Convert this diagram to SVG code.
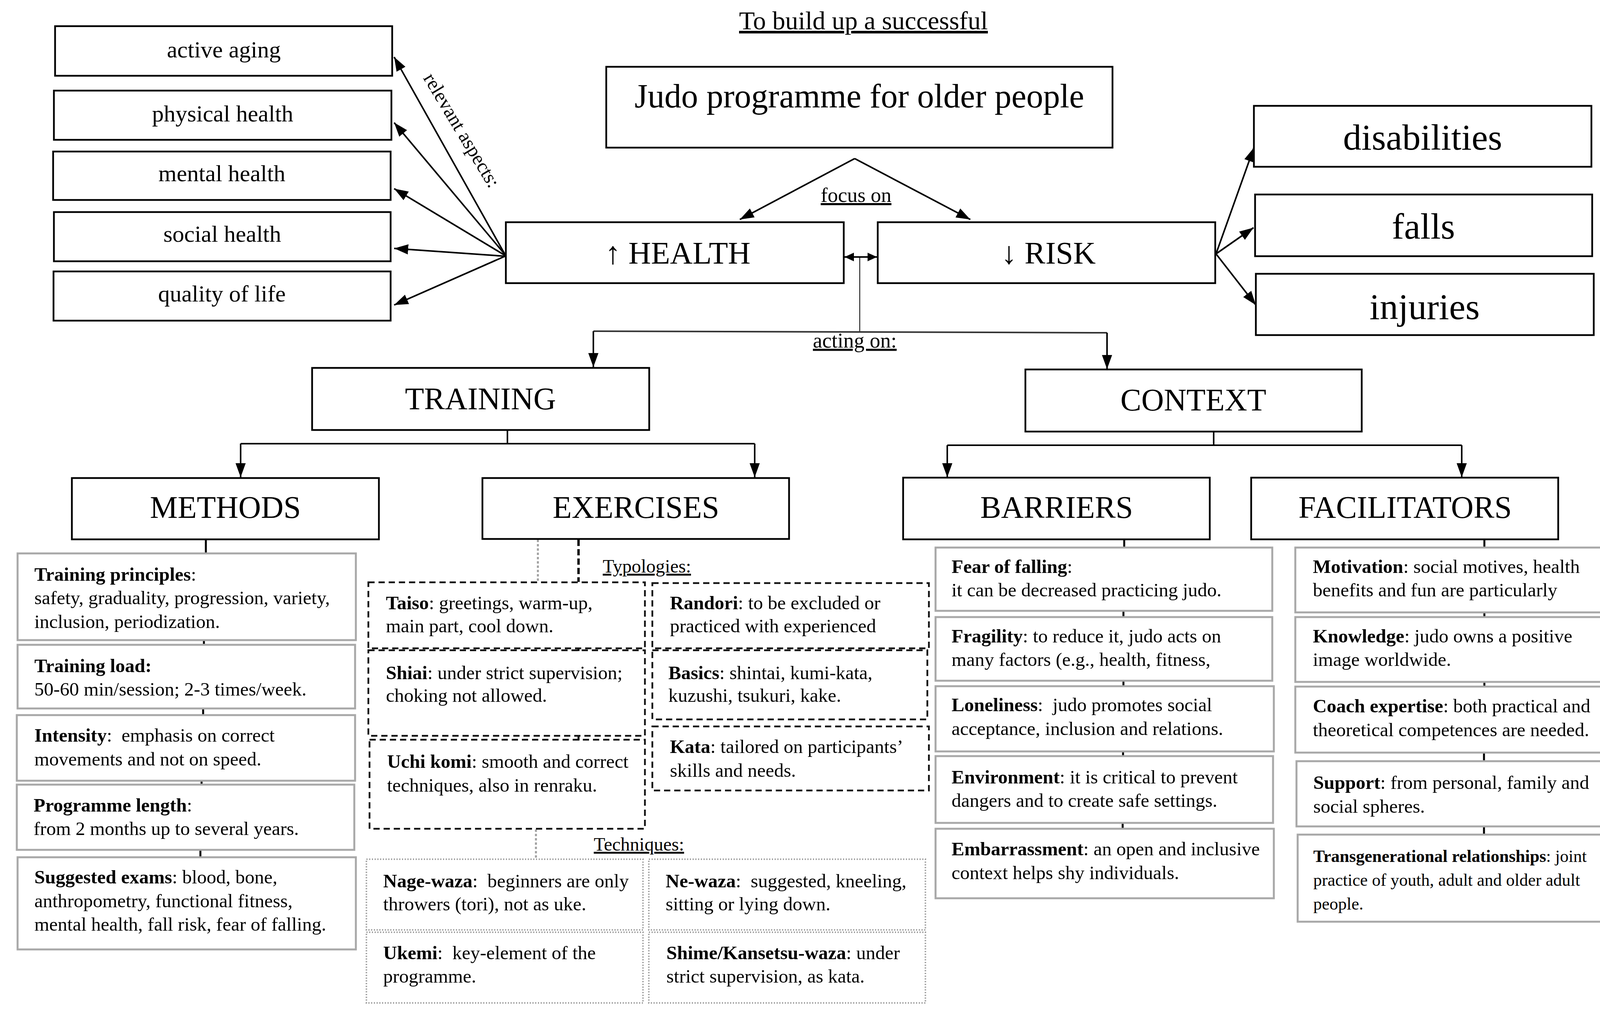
<svg xmlns="http://www.w3.org/2000/svg" width="4208" height="2604" viewBox="0 0 4208 2604">
<defs>
<marker id="ah" markerUnits="userSpaceOnUse" markerWidth="38" markerHeight="28" refX="36" refY="13" orient="auto" viewBox="0 0 38 26"><path d="M0,0 L36,13 L0,26 z" fill="#000"/></marker>
<marker id="ahs" markerUnits="userSpaceOnUse" markerWidth="26" markerHeight="24" refX="24" refY="11" orient="auto-start-reverse" viewBox="0 0 26 22"><path d="M0,0 L24,11 L0,22 z" fill="#000"/></marker>
</defs>
<style>
text{font-family:"Liberation Serif","Times New Roman",serif;fill:#000}
.box{fill:#fff;stroke:#000;stroke-width:4.5}
.gbox{fill:#fff;stroke:#a8a8a8;stroke-width:5}
.dbox{fill:none;stroke:#111;stroke-width:4.5;stroke-dasharray:16 10}
.obox{fill:none;stroke:#a0a0a0;stroke-width:4;stroke-dasharray:3 4}
.big{font-size:80px;text-anchor:middle}
.side{font-size:60px;text-anchor:middle}
.rside{font-size:94px;text-anchor:middle}
.d{font-size:49px}
.ds{font-size:44px}
.b{font-weight:bold}
.u{text-decoration:underline}
.c{fill:none;stroke:#000;stroke-width:4}
.tick{fill:none;stroke:#000;stroke-width:5}
</style>
<rect width="4208" height="2604" fill="#fff"/>

<g id="connectors">
<path class="c" d="M1293,652 L1009,146" marker-end="url(#ah)"/>
<path class="c" d="M1293,652 L1009,314" marker-end="url(#ah)"/>
<path class="c" d="M1293,654 L1009,483" marker-end="url(#ah)"/>
<path class="c" d="M1293,656 L1009,636" marker-end="url(#ah)"/>
<path class="c" d="M1293,656 L1009,781" marker-end="url(#ah)"/>
<path class="c" d="M3113,650 L3210,378" marker-end="url(#ah)"/>
<path class="c" d="M3113,650 L3209,583" marker-end="url(#ah)"/>
<path class="c" d="M3113,650 L3215,781" marker-end="url(#ah)"/>
<path class="c" d="M2188,406 L1894,562" marker-end="url(#ah)"/>
<path class="c" d="M2188,406 L2484,562" marker-end="url(#ah)"/>
<path class="c" d="M2162,658 L2245,658" marker-start="url(#ahs)" marker-end="url(#ahs)"/>
<path fill="none" stroke="#000" stroke-width="2" d="M2201,658 V850"/>
<path fill="none" stroke="#333" stroke-width="4" d="M1519,848 L2834,852"/>
<path class="c" d="M1519,848 V940" marker-end="url(#ah)"/>
<path class="c" d="M2834,852 V945" marker-end="url(#ah)"/>
<path class="c" d="M1299,1101 V1136 M616,1136 H1932"/>
<path class="c" d="M616,1136 V1222" marker-end="url(#ah)"/>
<path class="c" d="M1932,1136 V1222" marker-end="url(#ah)"/>
<path class="c" d="M3107,1105 V1140 M2425,1140 H3742"/>
<path class="c" d="M2425,1140 V1222" marker-end="url(#ah)"/>
<path class="c" d="M3742,1140 V1222" marker-end="url(#ah)"/>
<path class="tick" d="M527,1381 V1417 M522,1639 V1651 M520,1814 V1831 M516,1999 V2009 M513,2176 V2195"/>
<path class="tick" d="M2878,1381 V1402 M2876,1564 V1580 M2876,1743 V1757 M2875,1924 V1936 M2874,2107 V2122"/>
<path class="tick" d="M3800,1381 V1402 M3800,1568 V1580 M3800,1746 V1758 M3799,1927 V1949 M3799,2116 V2137"/>
<path fill="none" stroke="#a0a0a0" stroke-width="5" stroke-dasharray="6 5" d="M1377,1382 V1490"/>
<path fill="none" stroke="#000" stroke-width="6" stroke-dasharray="16 8" d="M1481,1382 V1490"/>
<path fill="none" stroke="#a0a0a0" stroke-width="5" stroke-dasharray="6 5" d="M1372,2124 V2200"/>
<path class="tick" d="M1481,1658 V1667 M1481,1884 V1896"/>
</g>

<text id="title" x="1892" y="75" font-size="66" class="u">To build up a successful</text>

<g id="judo"><rect class="box" x="1552" y="171" width="1296" height="207"/><text x="2200" y="275" font-size="86" text-anchor="middle">Judo programme for older people</text></g>

<text id="focus-label" x="2101" y="517" font-size="53" class="u">focus on</text>
<text id="acting-label" x="2081" y="890" font-size="54" class="u">acting on:</text>
<text id="relevant-label" transform="translate(1168,342) rotate(59)" font-size="50" text-anchor="middle">relevant aspects:</text>

<g id="health"><rect class="box" x="1295" y="569" width="865" height="156"/><text class="big" x="1735" y="675">↑ HEALTH</text></g>
<g id="risk"><rect class="box" x="2247" y="569" width="864" height="156"/><text class="big" x="2684" y="675">↓ RISK</text></g>

<g id="active-aging"><rect class="box" x="141" y="67" width="863" height="127"/><text class="side" x="573" y="147">active aging</text></g>
<g id="physical-health"><rect class="box" x="138" y="232" width="864" height="126"/><text class="side" x="570" y="311">physical health</text></g>
<g id="mental-health"><rect class="box" x="136" y="388" width="864" height="124"/><text class="side" x="568" y="464">mental health</text></g>
<g id="social-health"><rect class="box" x="138" y="543" width="862" height="126"/><text class="side" x="569" y="619">social health</text></g>
<g id="quality-of-life"><rect class="box" x="137" y="695" width="863" height="126"/><text class="side" x="568" y="772">quality of life</text></g>

<g id="disabilities"><rect class="box" x="3210" y="271" width="864" height="156"/><text class="rside" x="3642" y="383">disabilities</text></g>
<g id="falls"><rect class="box" x="3213" y="498" width="863" height="158"/><text class="rside" x="3644" y="611">falls</text></g>
<g id="injuries"><rect class="box" x="3215" y="701" width="865" height="157"/><text class="rside" x="3647" y="817">injuries</text></g>

<g id="training"><rect class="box" x="799" y="942" width="863" height="159"/><text class="big" x="1230" y="1048">TRAINING</text></g>
<g id="context"><rect class="box" x="2625" y="946" width="861" height="159"/><text class="big" x="3055" y="1051">CONTEXT</text></g>
<g id="methods"><rect class="box" x="184" y="1224" width="786" height="157"/><text class="big" x="577" y="1326">METHODS</text></g>
<g id="exercises"><rect class="box" x="1235" y="1224" width="785" height="156"/><text class="big" x="1628" y="1326" font-size="77">EXERCISES</text></g>
<g id="barriers"><rect class="box" x="2312" y="1223" width="785" height="158"/><text class="big" x="2705" y="1326" font-size="77">BARRIERS</text></g>
<g id="facilitators"><rect class="box" x="3203" y="1223" width="786" height="158"/><text class="big" x="3597" y="1326" font-size="73">FACILITATORS</text></g>

<g id="m-principles"><rect class="gbox" x="45" y="1417" width="866" height="222"/><text class="d" x="88" y="1487"><tspan class="b">Training principles</tspan>:</text><text class="d" x="88" y="1547">safety, graduality, progression, variety,</text><text class="d" x="88" y="1608">inclusion, periodization.</text></g>
<g id="m-load"><rect class="gbox" x="45" y="1651" width="864" height="163"/><text class="d" x="88" y="1721"><tspan class="b">Training load:</tspan></text><text class="d" x="88" y="1781">50-60 min/session; 2-3 times/week.</text></g>
<g id="m-intensity"><rect class="gbox" x="43" y="1831" width="866" height="168"/><text class="d" x="88" y="1899"><tspan class="b">Intensity</tspan>:&#160; emphasis on correct</text><text class="d" x="88" y="1960">movements and not on speed.</text></g>
<g id="m-length"><rect class="gbox" x="43" y="2009" width="864" height="167"/><text class="d" x="86" y="2078"><tspan class="b">Programme length</tspan>:</text><text class="d" x="86" y="2138">from 2 months up to several years.</text></g>
<g id="m-exams"><rect class="gbox" x="45" y="2195" width="866" height="236"/><text class="d" x="88" y="2262"><tspan class="b">Suggested exams</tspan>: blood, bone,</text><text class="d" x="88" y="2323">anthropometry, functional fitness,</text><text class="d" x="88" y="2383">mental health, fall risk, fear of falling.</text></g>

<text id="typologies-label" x="1543" y="1466" font-size="48" class="u">Typologies:</text>
<g id="e-taiso"><rect class="dbox" x="943" y="1491" width="708" height="169"/><text class="d" x="988" y="1560"><tspan class="b">Taiso</tspan>: greetings, warm-up,</text><text class="d" x="988" y="1619">main part, cool down.</text></g>
<g id="e-shiai"><rect class="dbox" x="943" y="1665" width="708" height="219"/><text class="d" x="988" y="1739"><tspan class="b">Shiai</tspan>: under strict supervision;</text><text class="d" x="988" y="1797">choking not allowed.</text></g>
<g id="e-uchikomi"><rect class="dbox" x="946" y="1894" width="705" height="228"/><text class="d" x="991" y="1966"><tspan class="b">Uchi komi</tspan>: smooth and correct</text><text class="d" x="991" y="2027">techniques, also in renraku.</text></g>
<g id="e-randori"><rect class="dbox" x="1670" y="1493" width="708" height="167"/><text class="d" x="1715" y="1560"><tspan class="b">Randori</tspan>: to be excluded or</text><text class="d" x="1715" y="1619">practiced with experienced</text></g>
<g id="e-basics"><rect class="dbox" x="1670" y="1665" width="704" height="177"/><text class="d" x="1711" y="1739"><tspan class="b">Basics</tspan>: shintai, kumi-kata,</text><text class="d" x="1711" y="1797">kuzushi, tsukuri, kake.</text></g>
<g id="e-kata"><rect class="dbox" x="1670" y="1860" width="708" height="164"/><text class="d" x="1715" y="1928"><tspan class="b">Kata</tspan>: tailored on participants’</text><text class="d" x="1715" y="1989">skills and needs.</text></g>

<text id="techniques-label" x="1520" y="2178" font-size="48" class="u">Techniques:</text>
<g id="t-nage"><rect class="obox" x="938" y="2200" width="708" height="181"/><text class="d" x="981" y="2272"><tspan class="b">Nage-waza</tspan>:&#160; beginners are only</text><text class="d" x="981" y="2331">throwers (tori), not as uke.</text></g>
<g id="t-ne"><rect class="obox" x="1661" y="2200" width="708" height="181"/><text class="d" x="1704" y="2272"><tspan class="b">Ne-waza</tspan>:&#160; suggested, kneeling,</text><text class="d" x="1704" y="2331">sitting or lying down.</text></g>
<g id="t-ukemi"><rect class="obox" x="938" y="2387" width="708" height="181"/><text class="d" x="981" y="2456"><tspan class="b">Ukemi</tspan>:&#160; key-element of the</text><text class="d" x="981" y="2516">programme.</text></g>
<g id="t-shime"><rect class="obox" x="1661" y="2387" width="708" height="181"/><text class="d" x="1706" y="2456"><tspan class="b">Shime/Kansetsu-waza</tspan>: under</text><text class="d" x="1706" y="2516">strict supervision, as kata.</text></g>

<g id="b-fear"><rect class="gbox" x="2395" y="1402" width="862" height="162"/><text class="d" x="2436" y="1467"><tspan class="b">Fear of falling</tspan>:</text><text class="d" x="2436" y="1527">it can be decreased practicing judo.</text></g>
<g id="b-fragility"><rect class="gbox" x="2395" y="1580" width="862" height="163"/><text class="d" x="2436" y="1645"><tspan class="b">Fragility</tspan>: to reduce it, judo acts on</text><text class="d" x="2436" y="1705">many factors (e.g., health, fitness,</text></g>
<g id="b-loneliness"><rect class="gbox" x="2395" y="1757" width="866" height="167"/><text class="d" x="2436" y="1821"><tspan class="b">Loneliness</tspan>:&#160; judo promotes social</text><text class="d" x="2436" y="1882">acceptance, inclusion and relations.</text></g>
<g id="b-environment"><rect class="gbox" x="2395" y="1936" width="864" height="171"/><text class="d" x="2436" y="2006"><tspan class="b">Environment</tspan>: it is critical to prevent</text><text class="d" x="2436" y="2066">dangers and to create safe settings.</text></g>
<g id="b-embarrassment"><rect class="gbox" x="2395" y="2122" width="866" height="178"/><text class="d" x="2436" y="2190"><tspan class="b">Embarrassment</tspan>: an open and inclusive</text><text class="d" x="2436" y="2251">context helps shy individuals.</text></g>

<g id="f-motivation"><rect class="gbox" x="3316" y="1402" width="867" height="166"/><text class="d" x="3361" y="1467"><tspan class="b">Motivation</tspan>: social motives, health</text><text class="d" x="3361" y="1527">benefits and fun are particularly</text></g>
<g id="f-knowledge"><rect class="gbox" x="3316" y="1580" width="867" height="166"/><text class="d" x="3361" y="1645"><tspan class="b">Knowledge</tspan>: judo owns a positive</text><text class="d" x="3361" y="1705">image worldwide.</text></g>
<g id="f-coach"><rect class="gbox" x="3316" y="1758" width="865" height="169"/><text class="d" x="3361" y="1824"><tspan class="b">Coach expertise</tspan>: both practical and</text><text class="d" x="3361" y="1885">theoretical competences are needed.</text></g>
<g id="f-support"><rect class="gbox" x="3319" y="1949" width="867" height="167"/><text class="d" x="3362" y="2020"><tspan class="b">Support</tspan>: from personal, family and</text><text class="d" x="3362" y="2081">social spheres.</text></g>
<g id="f-transgen"><rect class="gbox" x="3322" y="2137" width="864" height="223"/><text class="ds" x="3362" y="2207"><tspan class="b">Transgenerational relationships</tspan>: joint</text><text class="ds" x="3362" y="2268">practice of youth, adult and older adult</text><text class="ds" x="3362" y="2329">people.</text></g>
</svg>
